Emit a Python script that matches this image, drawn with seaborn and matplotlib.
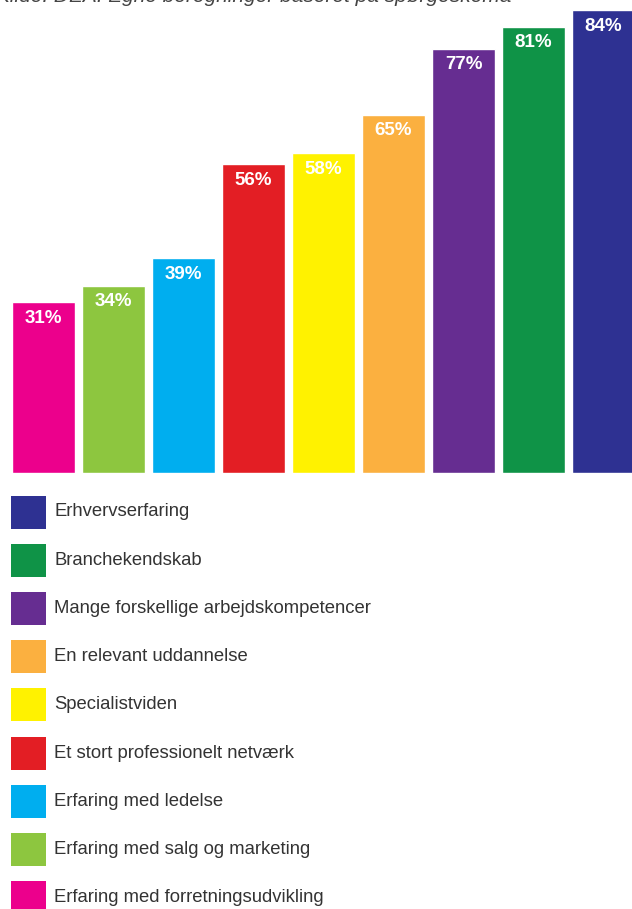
import matplotlib
matplotlib.use("Agg")
import matplotlib.pyplot as plt
import seaborn as sns
import pandas as pd
from matplotlib.patches import Rectangle

categories = [
    "Erfaring med forretningsudvikling",
    "Erfaring med salg og marketing",
    "Erfaring med ledelse",
    "Et stort professionelt netværk",
    "Specialistviden",
    "En relevant uddannelse",
    "Mange forskellige arbejdskompetencer",
    "Branchekendskab",
    "Erhvervserfaring",
]
values = [31, 34, 39, 56, 58, 65, 77, 81, 84]
colors = ["#EC008C", "#8DC63F", "#00AEEF", "#E31E24", "#FFF200",
          "#FBB040", "#662D91", "#0F9347", "#2E3192"]
source_text = "Kilde: DEA. Egne beregninger baseret på spørgeskema"

sns.set_theme(style="white")
plt.rcParams["font.family"] = ["Liberation Sans", "DejaVu Sans"]

W, H = 632, 909
fig = plt.figure(figsize=(W / 100, H / 100), dpi=100)

px = 463 / 84.0
ax = fig.add_axes([8.5 / W, (H - 473) / H, 630 / W, 86 * px / H])
df = pd.DataFrame({"cat": categories, "val": values})
sns.barplot(data=df, x="cat", y="val", hue="cat", palette=colors,
            order=categories, hue_order=categories, legend=False,
            width=0.9, saturation=1, ax=ax)
ax.set_xlim(-0.5, len(categories) - 0.5)
ax.set_ylim(0, 86)
ax.axis("off")

for i, v in enumerate(values):
    ax.annotate(f"{v}%", xy=(i, v), xytext=(0, -16), textcoords="offset pixels",
                ha="center", va="center", color="white", fontsize=13.5,
                fontweight="bold")

# legend (reversed order)
row_h = 48.2
for k, (lab, col) in enumerate(zip(categories[::-1], colors[::-1])):
    yc = 512 + k * row_h
    fig.add_artist(Rectangle((11 / W, (H - yc - 16.5) / H), 35 / W, 33 / H,
                             transform=fig.transFigure, facecolor=col,
                             edgecolor="none"))
    fig.text(54 / W, (H - yc) / H, lab, ha="left", va="center",
             fontsize=13.3, color="#333333")

fig.text(-4 / W, 1 - 2 / H, source_text, ha="left", va="baseline",
         fontsize=15, style="italic", color="#444444")

fig.savefig("out.png", dpi=100)
